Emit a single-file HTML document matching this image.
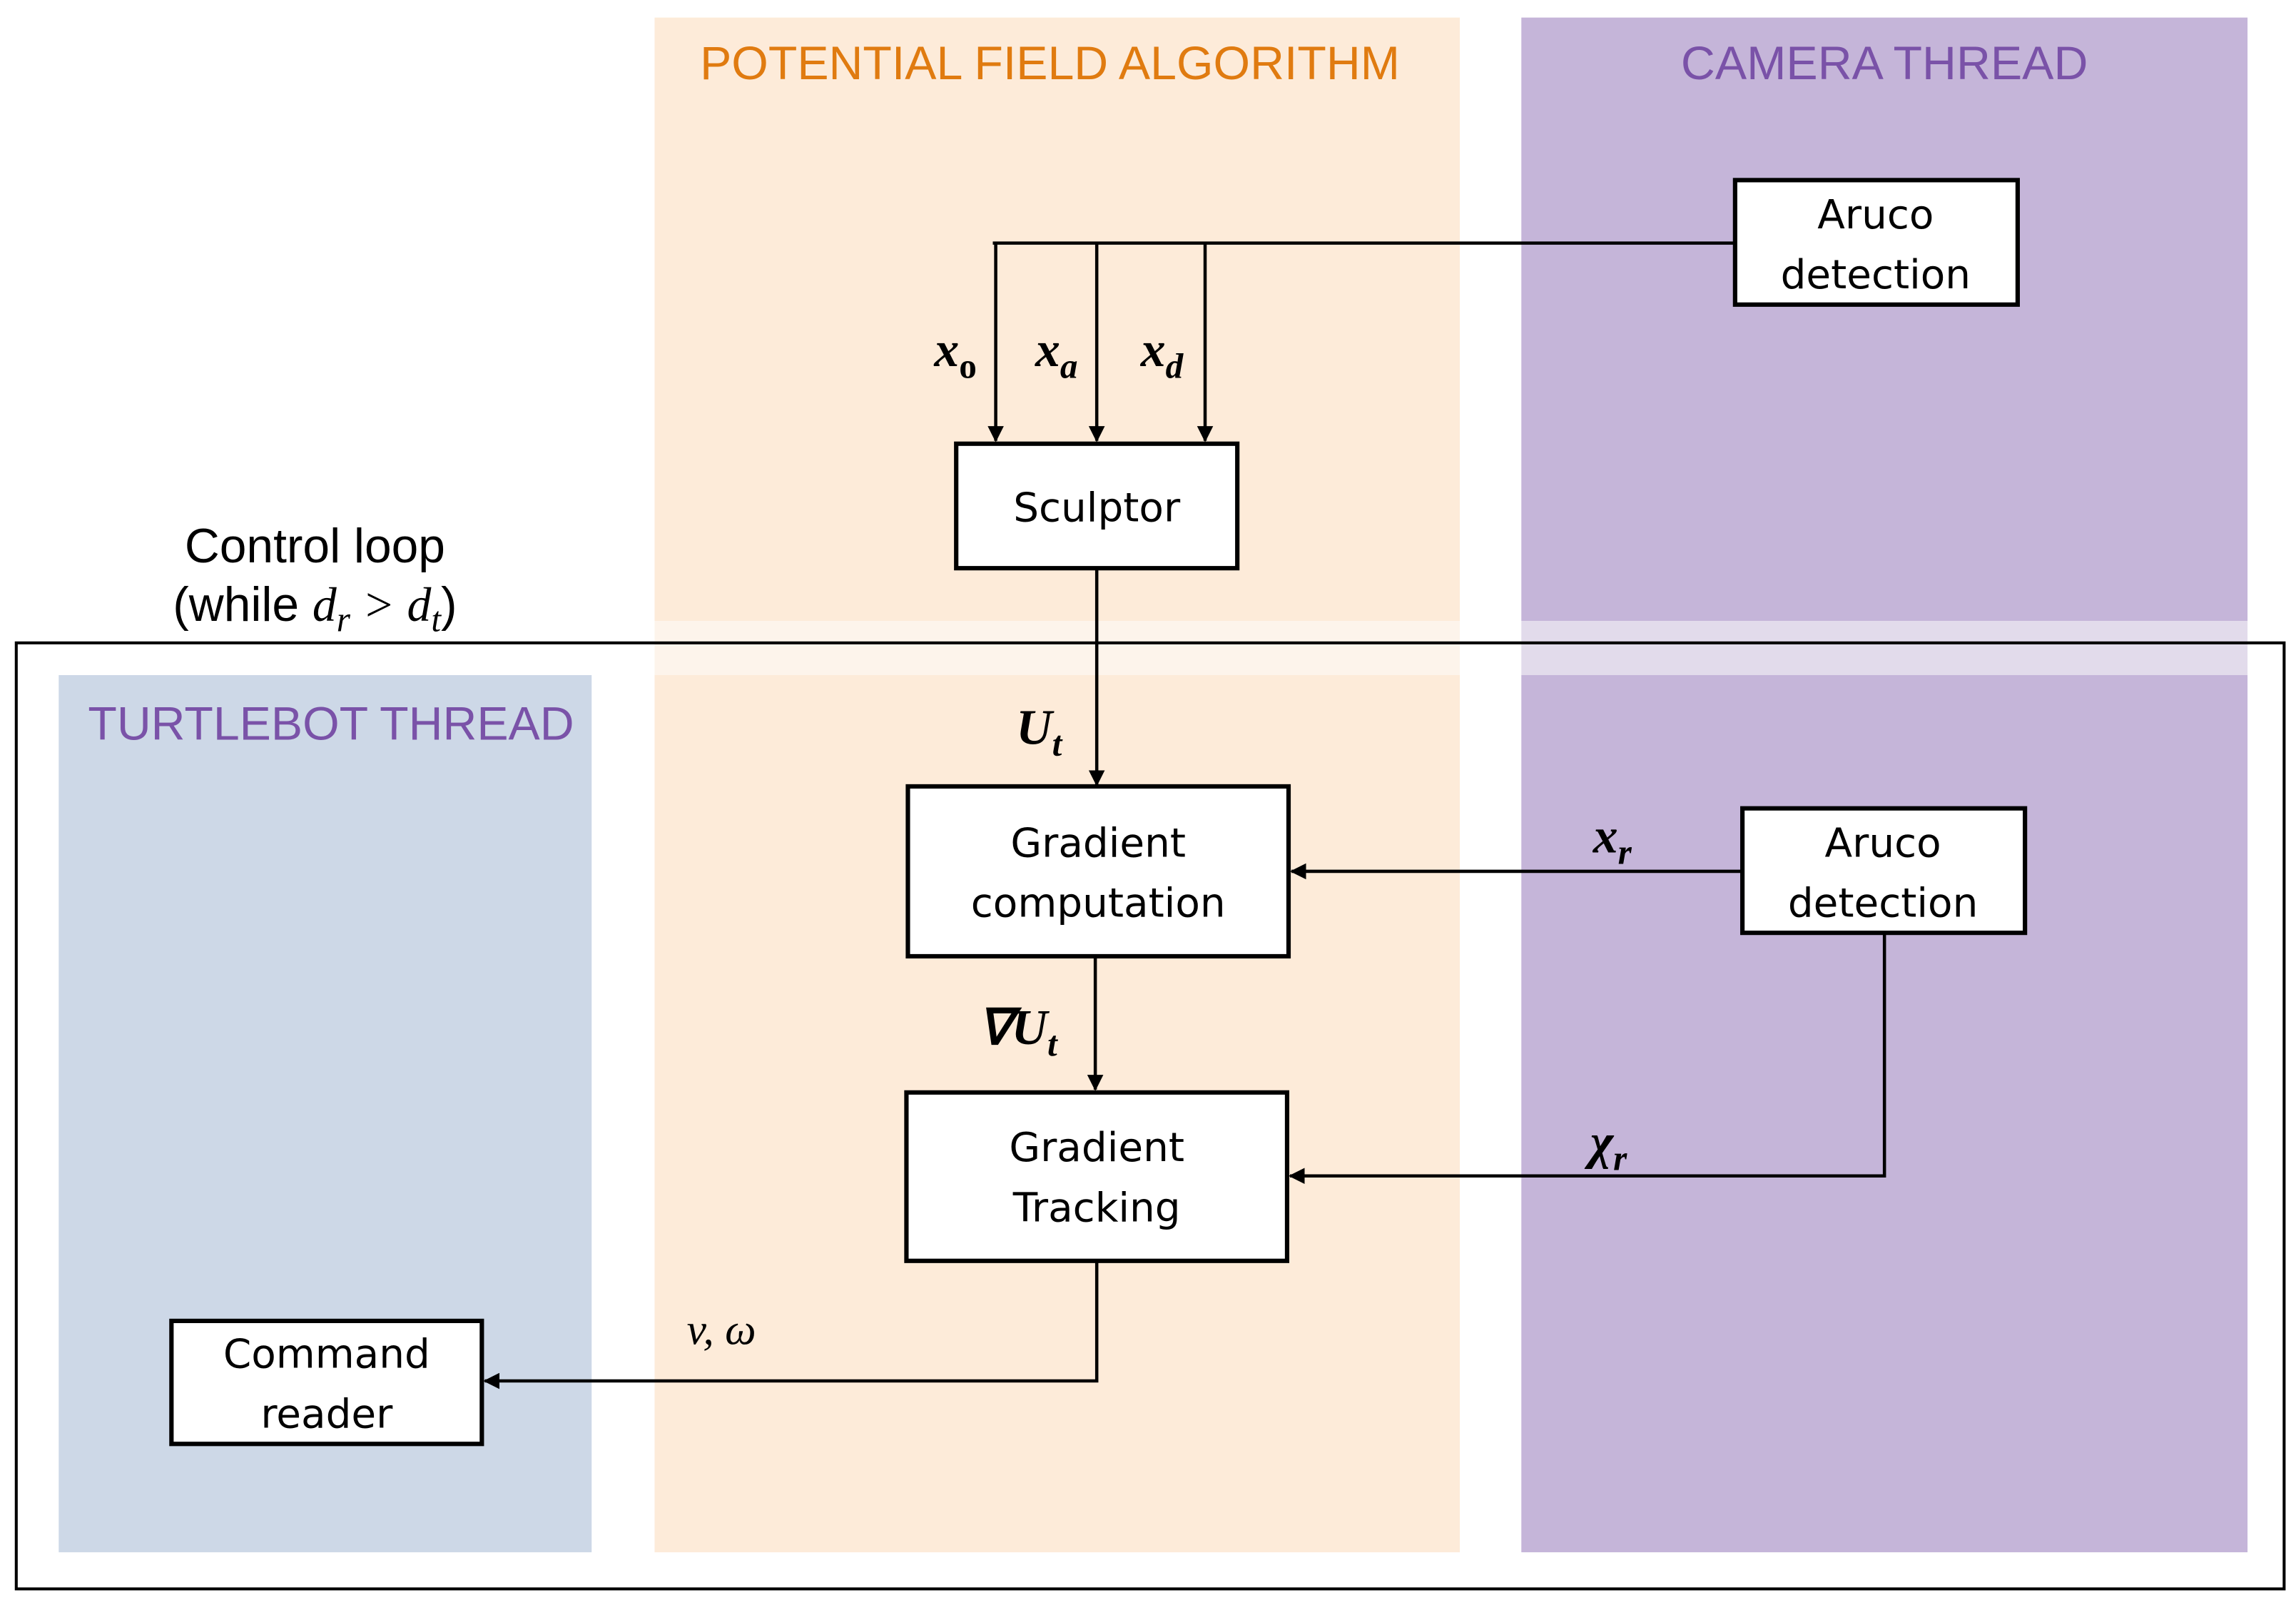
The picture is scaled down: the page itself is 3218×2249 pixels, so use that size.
<!DOCTYPE html>
<html><head><meta charset="utf-8"><style>
html,body{margin:0;padding:0;background:#fff;}
svg{display:block;}
.bx{fill:#fff;stroke:#000;stroke-width:3;}
.ln{stroke:#000;stroke-width:2.2;fill:none;}
.t{font-family:"DejaVu Sans","Liberation Sans",sans-serif;font-size:27.5px;text-anchor:middle;fill:#000;}
.m{font-family:"Liberation Serif",serif;font-style:italic;font-weight:bold;font-size:34px;fill:#000;}
.ti{font-family:"Liberation Sans",sans-serif;font-size:32px;text-anchor:middle;}
</style></head><body>
<svg width="3218" height="2249" viewBox="0 0 1568 1096" xmlns="http://www.w3.org/2000/svg">
<defs><marker id="a" markerWidth="11" markerHeight="11" refX="10" refY="5.5" orient="auto" markerUnits="userSpaceOnUse"><path d="M0,0 L11,5.5 L0,11 z" fill="#000"/></marker></defs>
<rect width="1568" height="1096" fill="#fff"/>
<rect x="447" y="12" width="550" height="412" fill="#fdebd9"/>
<rect x="447" y="424" width="550" height="37" fill="#fdf4eb"/>
<rect x="447" y="461" width="550" height="599" fill="#fdebd9"/>
<rect x="1039" y="12" width="496" height="412" fill="#c5b5d9"/>
<rect x="1039" y="424" width="496" height="37" fill="#e2dbeb"/>
<rect x="1039" y="461" width="496" height="599" fill="#c5b5d9"/>
<rect x="40" y="461" width="364" height="599" fill="#cdd8e7"/>
<rect x="11" y="439" width="1549" height="646" fill="none" stroke="#000" stroke-width="2"/>
<text class="ti" x="717" y="54" fill="#e07b10" textLength="478" lengthAdjust="spacingAndGlyphs">POTENTIAL FIELD ALGORITHM</text>
<text class="ti" x="1287" y="54" fill="#7a52a8" textLength="278" lengthAdjust="spacingAndGlyphs">CAMERA THREAD</text>
<text class="ti" x="226" y="505" fill="#7a52a8" textLength="332" lengthAdjust="spacingAndGlyphs">TURTLEBOT THREAD</text>
<text class="ti" x="215" y="384" fill="#000" style="font-size:33px">Control loop</text>
<text x="215" y="424" style="font-family:'Liberation Sans',sans-serif;font-size:33px;text-anchor:middle">(while <tspan style="font-family:'Liberation Serif',serif;font-style:italic">d<tspan dy="7" font-size="24">r</tspan><tspan dy="-7"> &gt; d</tspan><tspan dy="7" font-size="24">t</tspan></tspan><tspan dy="-7">)</tspan></text>
<path class="ln" d="M678,166 H1185"/>
<path class="ln" d="M680,166 V301" marker-end="url(#a)"/>
<path class="ln" d="M749,166 V301" marker-end="url(#a)"/>
<path class="ln" d="M823,166 V301" marker-end="url(#a)"/>
<path class="ln" d="M749,388 V536" marker-end="url(#a)"/>
<path class="ln" d="M1190,595 H882" marker-end="url(#a)"/>
<path class="ln" d="M748,653 V744" marker-end="url(#a)"/>
<path class="ln" d="M1287,637 V803 H881" marker-end="url(#a)"/>
<path class="ln" d="M749,861 V943 H331" marker-end="url(#a)"/>
<rect class="bx" x="1185" y="123" width="193" height="85"/>
<text class="t" x="1281" y="156">Aruco</text><text class="t" x="1281" y="197">detection</text>
<rect class="bx" x="653" y="303" width="192" height="85"/>
<text class="t" x="749" y="356">Sculptor</text>
<rect class="bx" x="620" y="537" width="260" height="116"/>
<text class="t" x="750" y="585">Gradient</text><text class="t" x="750" y="626">computation</text>
<rect class="bx" x="1190" y="552" width="193" height="85"/>
<text class="t" x="1286" y="585">Aruco</text><text class="t" x="1286" y="626">detection</text>
<rect class="bx" x="619" y="746" width="260" height="115"/>
<text class="t" x="749" y="793">Gradient</text><text class="t" x="749" y="834">Tracking</text>
<rect class="bx" x="117" y="902" width="212" height="84"/>
<text class="t" x="223" y="934">Command</text><text class="t" x="223" y="975">reader</text>
<text class="m" x="638" y="250">x<tspan dy="8" font-size="24" font-style="normal">o</tspan></text>
<text class="m" x="707" y="250">x<tspan dy="8" font-size="24">a</tspan></text>
<text class="m" x="779" y="250">x<tspan dy="8" font-size="24">d</tspan></text>
<text class="m" x="694" y="508">U<tspan dy="8" font-size="24">t</tspan></text>
<text class="m" x="668" y="713">∇U<tspan dy="8" font-size="24">t</tspan></text>
<text class="m" x="1088" y="582">x<tspan dy="8" font-size="24">r</tspan></text>
<text class="m" x="1086" y="791">χ<tspan dy="8" font-size="24">r</tspan></text>
<text x="469" y="918" style="font-family:'Liberation Serif',serif;font-style:italic;font-size:30px">v, ω</text>
</svg>
</body></html>
